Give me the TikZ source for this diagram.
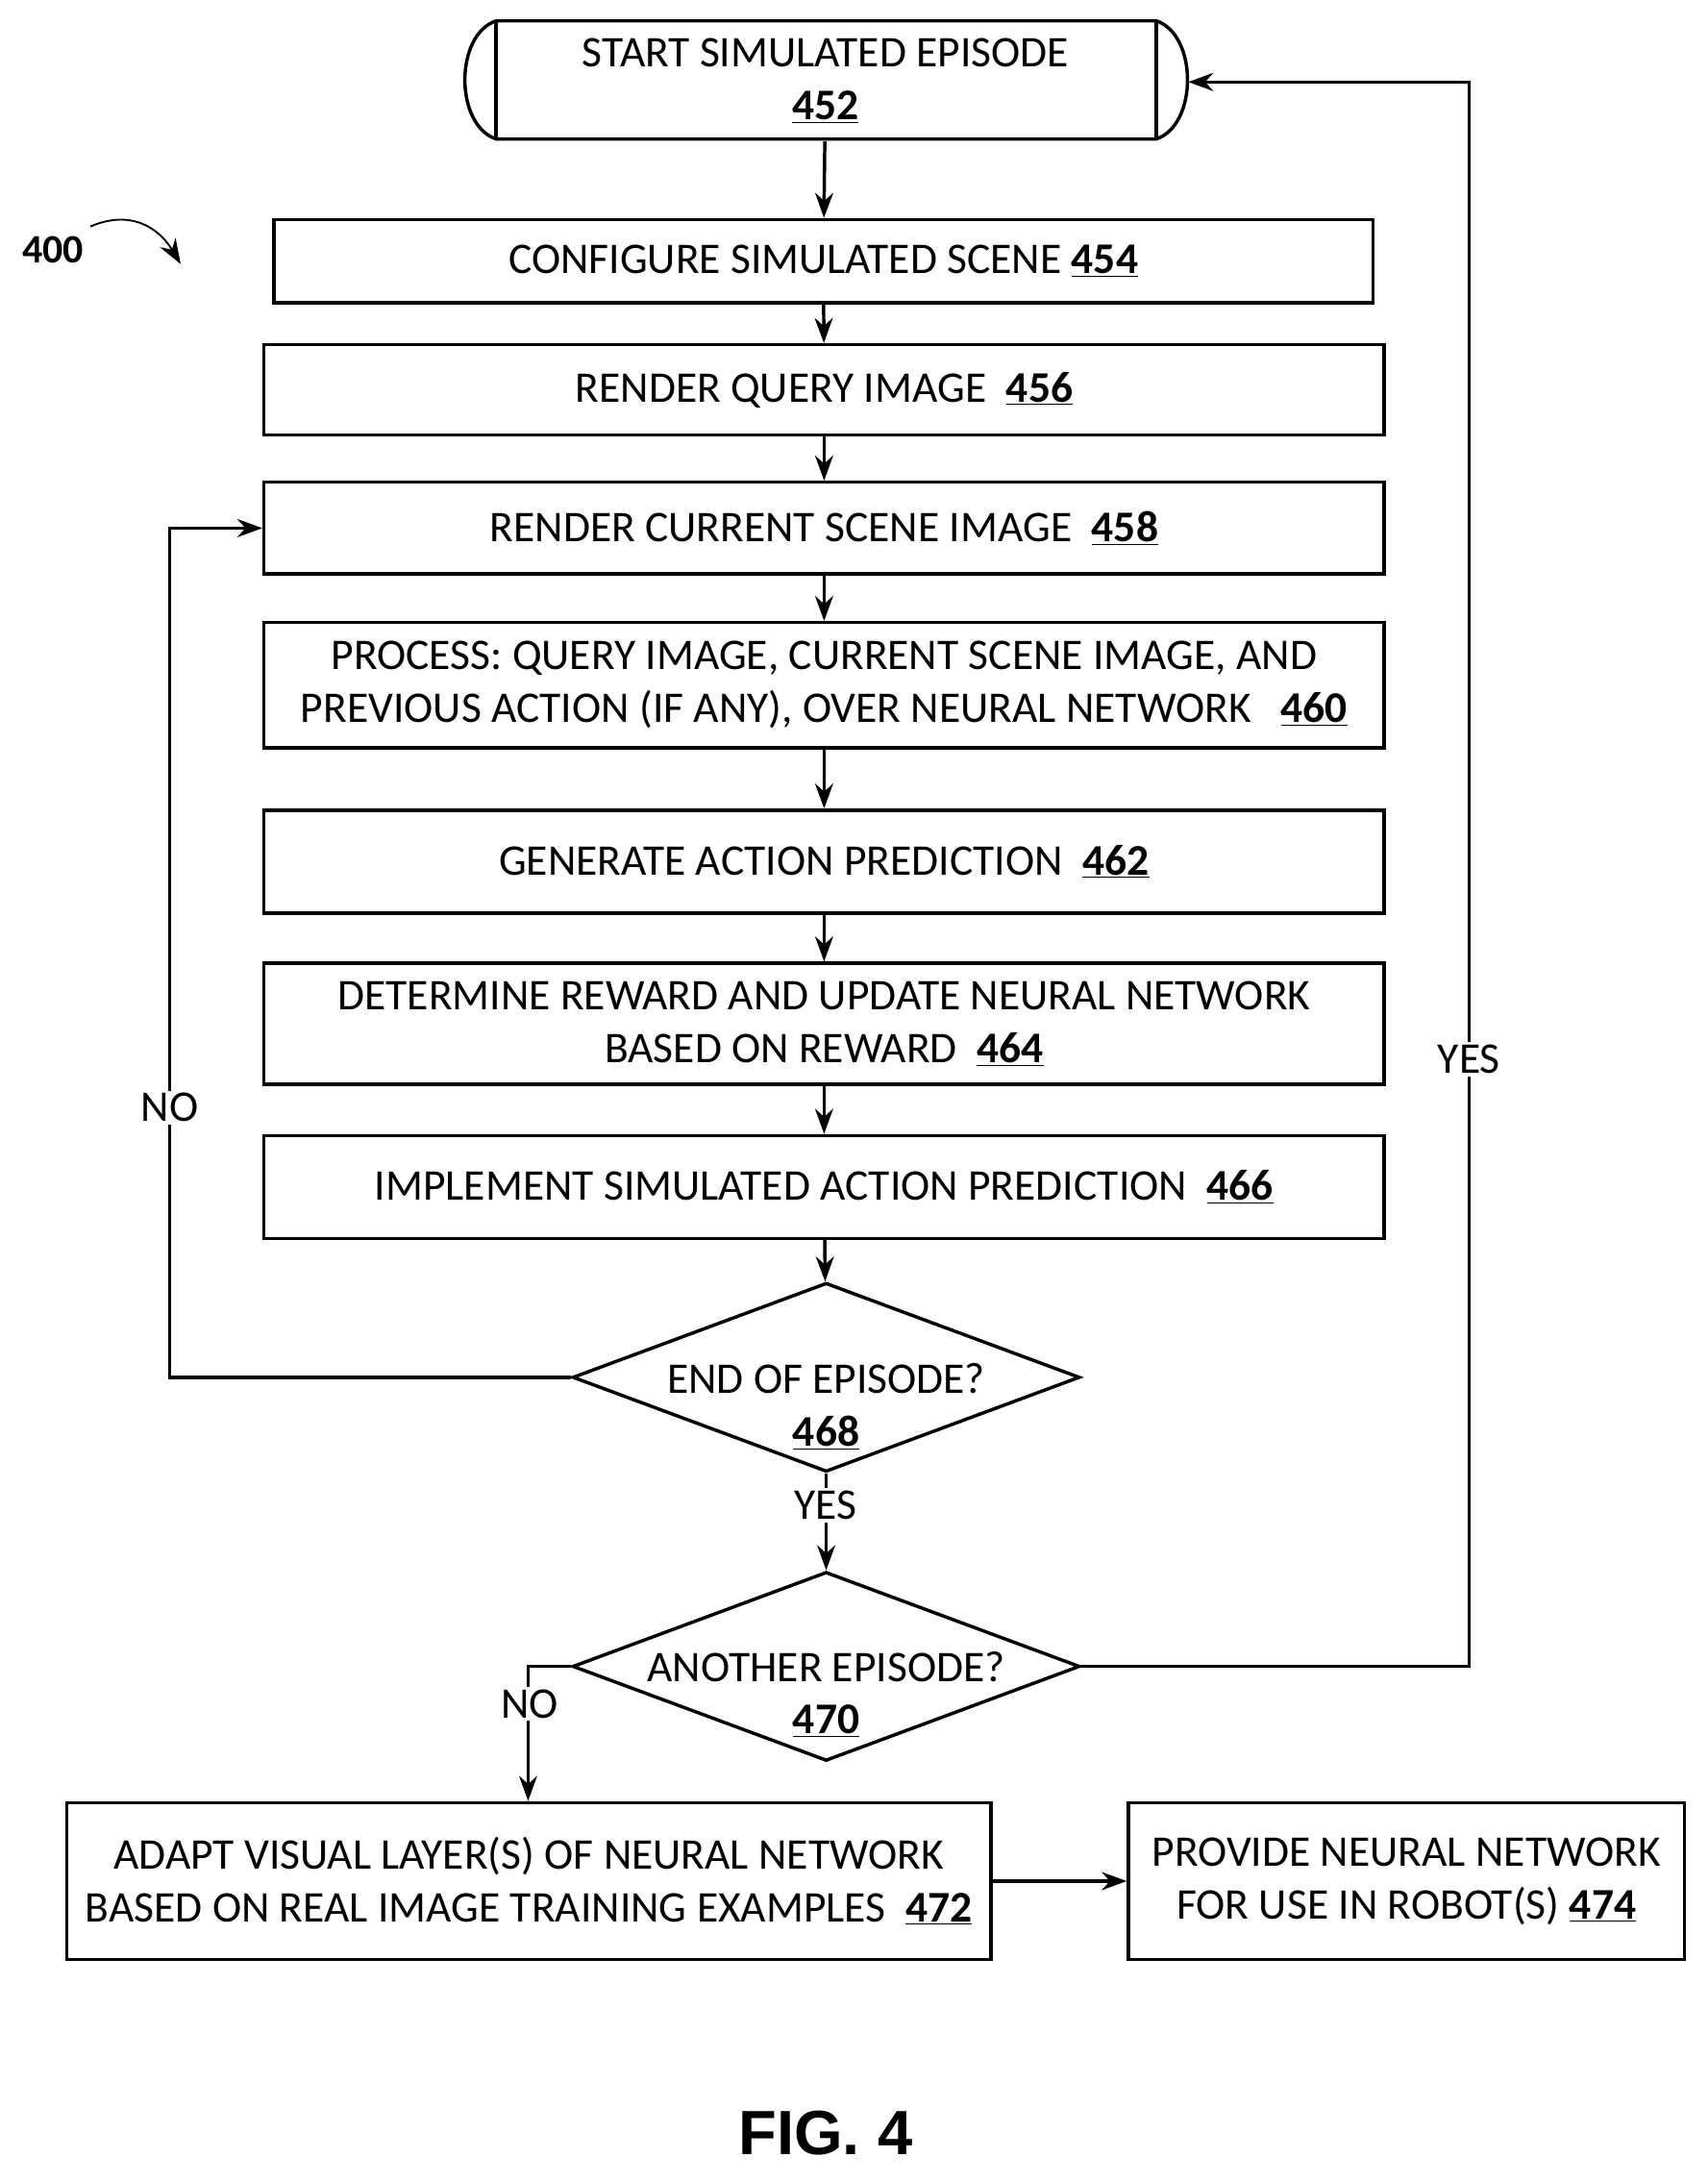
\documentclass[tikz,border=0pt]{standalone}
\usepackage{fontspec}
\setmainfont{Carlito}
\newfontfamily\figfont{Liberation Sans}
\usetikzlibrary{arrows.meta,shapes.geometric}
\newcommand{\rn}[1]{\underline{\textbf{#1}}}
\begin{document}
\begin{tikzpicture}[x=1pt,y=-1pt,line width=2.4pt,
  box/.style={draw,rectangle,align=center,font=\fontsize{31.5}{38}\selectfont,inner sep=0pt},
  dia/.style={draw,diamond,aspect=2.68,minimum width=365pt,minimum height=136pt,inner sep=0pt},
  txt/.style={align=center,font=\fontsize{31.5}{38}\selectfont,inner sep=0pt},
  lab/.style={font=\fontsize{31.5}{36}\selectfont,fill=white,inner sep=2pt},
  arr/.style={-{Stealth[length=18pt,width=13pt]}}]
\useasboundingbox (0,0) rectangle (1229,1570);
% start terminator
\draw (357,15) -- (832,15) .. controls (862,25) and (862,90) .. (832,100) -- (357,100) .. controls (327,90) and (327,25) .. (357,15);
\draw (357,15) -- (357,100) (832,15) -- (832,100);
\node[txt,minimum width=498pt,minimum height=85pt] (s) at (594,58) {START SIMULATED EPISODE\\\rn{452}};
\node[box,minimum width=791pt,minimum height=60pt] (a) at (592.5,188) {CONFIGURE SIMULATED SCENE \rn{454}};
\node[box,minimum width=806pt,minimum height=65pt] (b) at (593,280.5) {RENDER QUERY IMAGE\ \ \rn{456}};
\node[box,minimum width=806pt,minimum height=66pt] (c) at (593,380) {RENDER CURRENT SCENE IMAGE\ \ \rn{458}};
\node[box,minimum width=806pt,minimum height=90pt] (d) at (593,493) {PROCESS: QUERY IMAGE, CURRENT SCENE IMAGE, AND\\PREVIOUS ACTION (IF ANY), OVER NEURAL NETWORK\ \ \ \rn{460}};
\node[box,minimum width=806pt,minimum height=74pt] (e) at (593,620) {GENERATE ACTION PREDICTION\ \ \rn{462}};
\node[box,minimum width=806pt,minimum height=87pt] (f) at (593,736.5) {DETERMINE REWARD AND UPDATE NEURAL NETWORK\\BASED ON REWARD\ \ \rn{464}};
\node[box,minimum width=806pt,minimum height=74pt] (g) at (593,854) {IMPLEMENT SIMULATED ACTION PREDICTION\ \ \rn{466}};
\node[dia] (h) at (594.5,991) {};
\node[txt] (ht) at (594.5,1012) {END OF EPISODE?\\\rn{468}};
\node[dia] (i) at (594.5,1199) {};
\node[txt] (it) at (594.5,1219) {ANOTHER EPISODE?\\\rn{470}};
\node[box,minimum width=665pt,minimum height=113pt] (j) at (380.5,1353.5) {ADAPT VISUAL LAYER(S) OF NEURAL NETWORK\\BASED ON REAL IMAGE TRAINING EXAMPLES\ \ \rn{472}};
\node[box,minimum width=400pt,minimum height=113pt] (k) at (1012,1353.5) {PROVIDE NEURAL NETWORK\\FOR USE IN ROBOT(S) \rn{474}};
\draw[arr] (s) -- (a);
\draw[arr] (a) -- (b);
\draw[arr] (b) -- (c);
\draw[arr] (c) -- (d);
\draw[arr] (d) -- (e);
\draw[arr] (e) -- (f);
\draw[arr] (f) -- (g);
\draw[arr] (g) -- (h);
\draw[arr] (h) -- (i);
\node[lab] (yes1) at (594,1083) {YES};
\draw[arr] (h.west) -- (122,991) -- (122,380) -- (c.west);
\node[lab] (no1) at (122,797) {NO};
\draw[arr] (i.east) -- (1057,1199) -- (1057,59) -- (855,59);
\node[lab] (yes2) at (1057,762) {YES};
\draw[arr] (i.west) -- (380,1199) -- (j.north -| 380,0);
\node[lab] (no2) at (381,1226) {NO};
\draw[arr] (j) -- (k);
\node[font=\fontsize{29}{32}\selectfont\bfseries] (n400) at (38,180) {400};
\draw[arr,line width=1.3pt] (65,163) .. controls (95,150) and (115,165) .. (130,190);
\node[font=\figfont\fontsize{45}{50}\selectfont\bfseries] (fig) at (594,1535) {FIG. 4};
\end{tikzpicture}
\end{document}
